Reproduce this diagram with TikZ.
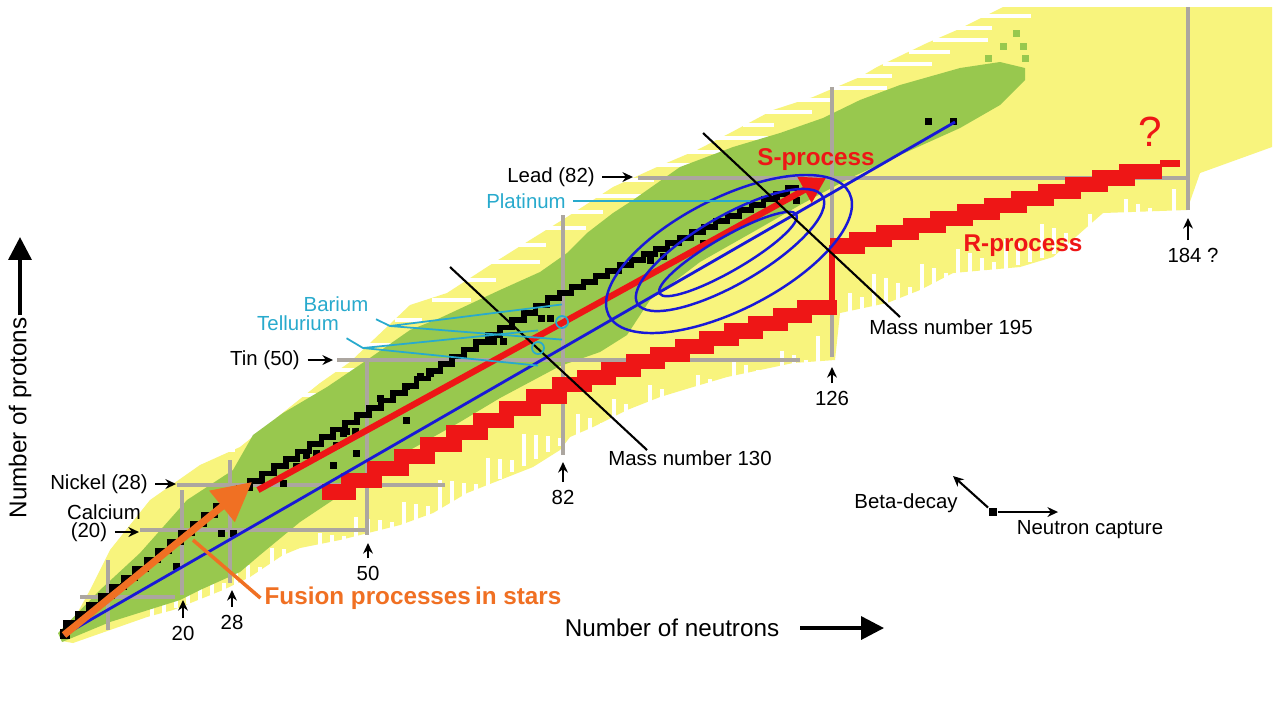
\documentclass[tikz,border=0pt]{standalone}
\usepackage{fontspec}
\setmainfont{Liberation Sans}
\usetikzlibrary{arrows.meta}

\definecolor{nucyellow}{RGB}{248,244,125}
\definecolor{nucgreen}{RGB}{152,200,78}
\definecolor{nucred}{RGB}{238,22,22}
\definecolor{magicgray}{RGB}{172,166,160}
\definecolor{pathblue}{RGB}{25,25,215}
\definecolor{fusionorange}{RGB}{240,112,35}
\definecolor{labelcyan}{RGB}{40,170,205}

\newcommand{\lblsize}{\fontsize{5.8}{6.6}\selectfont}
\newcommand{\axsize}{\fontsize{6.9}{8}\selectfont}

\begin{document}
\begin{tikzpicture}[x=0.01cm, y=-0.01cm,
    lbl/.style={font=\lblsize, inner sep=2pt},
    axlbl/.style={font=\axsize, inner sep=2pt},
    proclbl/.style={font=\axsize\bfseries, text=nucred, inner sep=1pt},
    cyanlbl/.style={font=\lblsize, text=labelcyan, inner sep=2pt},
    magic/.style={magicgray, line width=1.4pt},
    rband/.style={nucred, line width=4.3pt},
    stable/.style={black, line width=1.6pt},
    streak/.style={white, line width=1.2pt},
    markarrow/.style={-{Stealth[length=3pt, width=2.8pt]}, line width=0.6pt},
    axisarrow/.style={-{Triangle[length=6.5pt, width=6.5pt]}, line width=1pt},
    ellip/.style={pathblue, line width=0.7pt},
    cyanline/.style={labelcyan, line width=0.5pt}]

    \fill[white] (0,0) rectangle (1280,720);

    % nuclide chart
    \fill[nucyellow] (62,641) -- (90,590) -- (110,550) -- (150,500) -- (200,465) -- (240,447) -- (290,407) -- (320,383) -- (350,362) -- (410,305) -- (447,293) -- (487,267) -- (530,240) -- (567,217) -- (613,187) -- (657,167) -- (697,150) -- (730,133) -- (773,110) -- (813,97) -- (860,77) -- (877,67) -- (927,43) -- (957,30) -- (1003,7) -- (1272,7) -- (1272,147) -- (1200,173) -- (1187,210) -- (1103,213) -- (1087,227) -- (1053,257) -- (1020,267) -- (953,273) -- (920,290) -- (887,303) -- (840,313) -- (835,360) -- (793,363) -- (727,377) -- (693,387) -- (660,397) -- (627,410) -- (593,427) -- (570,437) -- (560,450) -- (533,467) -- (500,480) -- (467,493) -- (433,513) -- (400,525) -- (340,540) -- (300,548) -- (283,555) -- (250,577) -- (223,590) -- (173,610) -- (147,617) -- (73,643) -- cycle;

    % ragged edges
    \foreach \x in {152,164,...,428} {
        \pgfmathsetmacro\yb{619-0.364*(\x-147)}
        \pgfmathsetmacro\ya{\yb-8-3*mod(\x,7)}
        \draw[streak] (\x,\ya) -- (\x,\yb);
    }
    \foreach \x in {440,452,...,566} {
        \pgfmathsetmacro\yb{516-0.555*(\x-433)}
        \pgfmathsetmacro\ya{\yb-8-4*mod(\x,7)}
        \draw[streak] (\x,\ya) -- (\x,\yb);
    }
    \foreach \x in {578,590,...,826} {
        \pgfmathsetmacro\yb{440-0.29*(\x-570)}
        \pgfmathsetmacro\ya{\yb-8-4*mod(\x,7)}
        \draw[streak] (\x,\ya) -- (\x,\yb);
    }
    \foreach \x in {850,862,...,1180} {
        \pgfmathsetmacro\yb{318-0.297*(\x-840)}
        \pgfmathsetmacro\ya{\yb-10-4*mod(\x,7)}
        \draw[streak] (\x,\ya) -- (\x,\yb);
    }
    \foreach \y/\x/\l in {450/215/20, 420/255/30, 395/300/18, 370/335/26, 345/370/40, 320/400/22, 300/437/34, 280/468/28, 262/495/45, 245/522/24, 228/548/38, 212/573/30, 196/598/50, 180/628/26, 165/660/40, 152/690/30, 138/720/48, 125/748/26, 112/770/42, 100/800/34, 88/835/52, 76/862/30, 64/888/44, 52/914/36, 40/938/50, 28/962/30, 16/985/46}
        \draw[streak] (\x-5,\y) -- (\x+\l,\y);

    \fill[nucgreen] (58,633) -- (100,590) -- (140,553) -- (187,500) -- (233,470) -- (253,435) -- (283,413) -- (327,387) -- (367,360) -- (410,330) -- (440,318) -- (500,290) -- (540,272) -- (567,253) -- (587,233) -- (613,213) -- (633,200) -- (680,167) -- (733,147) -- (780,133) -- (823,118) -- (860,100) -- (900,85) -- (960,68) -- (1000,62) -- (1025,68) -- (1025,80) -- (1000,105) -- (960,128) -- (900,155) -- (850,178) -- (800,205) -- (760,228) -- (700,262) -- (650,300) -- (627,335) -- (600,352) -- (560,366) -- (500,398) -- (460,422) -- (410,450) -- (367,478) -- (330,502) -- (300,522) -- (260,555) -- (240,572) -- (200,590) -- (180,600) -- (110,622) -- (62,642) -- cycle;
    \foreach \x/\y in {1013/30, 1000/43, 1020/43, 985/55, 1022/55}
        \fill[nucgreen] (\x,\y) rectangle ++(7,7);

    % magic numbers
    \foreach \y/\xa/\xb in {178/638/1190, 360/337/800, 485/177/445, 530/140/365, 597/80/175}
        \draw[magic] (\xa,\y) -- (\xb,\y);
    \foreach \x/\ya/\yb in {108/560/630, 182/490/595, 230/460/583, 367/360/535, 563/215/455, 832/87/357, 1188/7/210}
        \draw[magic] (\x,\ya) -- (\x,\yb);

    % r-process path
    \draw[rband] (322,492) \foreach \i in {1,...,9} { -| ++(26.4,-11.9) } \foreach \i in {1,...,11} { -| ++(24.5,-7.7) };
    \draw[nucred, line width=1.6pt] (832,302) -- (832,245);
    \draw[rband] (830,246) \foreach \i in {1,...,12} { -| ++(27,-6.8) };
    \draw[nucred, line width=2pt] (1160,163) -- (1180,163);

    % stable nuclei
    \draw[stable] (66,632) \foreach \i in {1,...,16} { |- ++(11.5,-9) } \foreach \i in {1,...,26} { |- ++(11.9,-7.3) } \foreach \i in {1,...,20} { |- ++(12,-5.5) };
    \foreach \x/\y in {313/450, 333/442, 340/430, 353/450, 330/462, 303/452, 377/395, 403/383, 417/373, 427/370, 293/463, 280/480, 490/338, 500/338, 538/315, 547/315, 403/417, 343/428, 352/428, 647/257, 660/253, 700/240, 773/193, 793/197, 218/530, 230/530, 173/563, 120/583, 925/118, 950/118}
        \fill (\x,\y) rectangle ++(7,7);
    \fill (60,629) rectangle ++(10,10);

    % s-process and ellipses
    \coordinate (origin) at (64,635);
    \coordinate (blueend) at (955,122);
    \draw[pathblue, line width=0.8pt] (origin) -- (blueend);
    \coordinate (sstart) at (258,490);
    \coordinate (stip) at (826,178);
    \draw[nucred, line width=1.8pt, -{Triangle[length=7pt, width=8pt]}] (sstart) -- (stip);
    \draw[ellip, rotate around={27:(729,254)}] (729,254) ellipse [x radius=135, y radius=56];
    \draw[ellip, rotate around={30:(730,250)}] (730,250) ellipse [x radius=107, y radius=34];
    \draw[ellip, rotate around={30:(728,254)}] (728,254) ellipse [x radius=79, y radius=17];

    % mass number lines
    \node[lbl] (mass130) at (690,458) {Mass number 130};
    \node[lbl] (mass195) at (951,327) {Mass number 195};
    \coordinate (m130top) at (450,267);
    \coordinate (m130end) at (647,450);
    \coordinate (m195top) at (703,133);
    \coordinate (m195end) at (900,317);
    \draw[line width=0.6pt] (m130top) -- (m130end);
    \draw[line width=0.6pt] (m195top) -- (m195end);

    % fusion
    \coordinate (fusiontip) at (252,482);
    \draw[fusionorange, line width=2pt, -{Triangle[length=11pt, width=11pt]}] (origin) -- (fusiontip);
    \node[font=\axsize\bfseries, text=fusionorange, inner sep=1pt] (fusion) at (413,598) {Fusion processes\,in stars};
    \coordinate (fusionpt) at (193,540);
    \draw[fusionorange, line width=1pt] (fusion.west) -- (fusionpt);

    % element labels
    \node[lbl] (lead) at (551,177) {Lead (82)};
    \coordinate (leadmark) at (633,177);
    \draw[markarrow] (lead) -- (leadmark);
    \node[lbl] (tin) at (265,360) {Tin (50)};
    \coordinate (tinmark) at (333,360);
    \draw[markarrow] (tin) -- (tinmark);
    \node[lbl] (nickel) at (99,484) {Nickel (28)};
    \coordinate (nickelmark) at (176,484);
    \draw[markarrow] (nickel) -- (nickelmark);
    \node[lbl] (calcium) at (104,512) {Calcium};
    \node[lbl] (calnum) at (89,532) {(20)};
    \coordinate (calmark) at (139,532);
    \draw[markarrow] (calnum) -- (calmark);

    \node[cyanlbl] (platinum) at (526,201) {Platinum};
    \coordinate (ptmark) at (750,201);
    \draw[cyanline] (platinum) -- (ptmark);
    \node[cyanlbl] (barium) at (336,304) {Barium};
    \node[cyanlbl] (tellurium) at (298,323) {Tellurium};
    \coordinate (baknee) at (390,326);
    \coordinate (teknee) at (363,348);
    \coordinate (bamark) at (562,322);
    \coordinate (temark) at (538,348);
    \draw[cyanline] (barium.south east) -- (baknee) -- ([yshift=-5]bamark) (baknee) -- ([yshift=5]bamark);
    \draw[cyanline] (tellurium.south east) -- (teknee) -- ([yshift=-5]temark) (teknee) -- ([yshift=5]temark);
    \draw[cyanline] (bamark) circle [radius=6];
    \draw[cyanline] (temark) circle [radius=6];

    % neutron numbers
    \foreach \name/\x/\y/\txt in {n20/183/633/20, n28/232/622/28, n50/368/573/50, n82/563/497/82, n126/832/398/126, n184/1193/255/184 ?} {
        \node[lbl] (\name) at (\x,\y) {\txt};
    }
    \foreach \name/\x/\tip in {n20/183/600, n28/232/590, n50/368/543, n82/563/462, n126/832/367, n184/1188/218}
        \draw[markarrow] (\name.north -| \x,0) -- (\x,\tip);

    % process labels
    \node[proclbl] (sproc) at (816,160) {S-process};
    \node[proclbl] (rproc) at (1023,246) {R-process};
    \node[font=\fontsize{12}{14}\selectfont, text=nucred, inner sep=0pt] (rquery) at (1150,132) {?};

    % axes
    \node[axlbl] (xlabel) at (672,628) {Number of neutrons};
    \coordinate (xarrowa) at (800,628);
    \coordinate (xarrowb) at (884,628);
    \draw[axisarrow] (xarrowa) -- (xarrowb);
    \node[axlbl, rotate=90] (ylabel) at (20,418) {Number of protons};
    \coordinate (yarrowa) at (20,315);
    \coordinate (yarrowb) at (20,237);
    \draw[axisarrow] (yarrowa) -- (yarrowb);

    % legend
    \node[fill=black, inner sep=0pt, minimum size=2.4pt] (legendsq) at (993,512) {};
    \coordinate (betaend) at (953,476);
    \coordinate (captureend) at (1058,512);
    \draw[markarrow] (legendsq) -- (betaend);
    \draw[markarrow] (legendsq) -- (captureend);
    \node[lbl] (beta) at (906,503) {Beta-decay};
    \node[lbl] (ncapture) at (1090,530) {Neutron capture};
\end{tikzpicture}
\end{document}
